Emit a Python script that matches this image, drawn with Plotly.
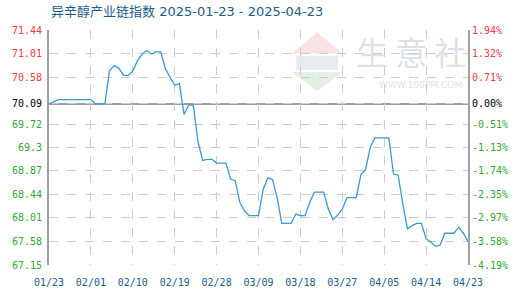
import pandas as pd
import plotly.graph_objects as go

title_text = "异辛醇产业链指数 2025-01-23 - 2025-04-23"
start_date = "2025-01-23"
end_date = "2025-04-23"
base_value = 70.09

values = [
    70.09, 70.13, 70.17, 70.17, 70.17, 70.17, 70.17, 70.17, 70.17, 70.17,
    70.09, 70.09, 70.09, 70.70, 70.79, 70.74, 70.61, 70.61, 70.69, 70.88,
    71.00, 71.07, 71.00, 71.04, 71.04, 70.73, 70.59, 70.43, 70.46, 69.90,
    70.07, 70.07, 69.40, 69.06, 69.08, 69.08, 69.01, 69.01, 69.01, 68.72,
    68.69, 68.29, 68.14, 68.05, 68.05, 68.05, 68.53, 68.74, 68.71, 68.38,
    67.91, 67.91, 67.91, 68.08, 68.05, 68.05, 68.29, 68.48, 68.48, 68.48,
    68.17, 67.98, 68.06, 68.17, 68.38, 68.38, 68.38, 68.80, 68.89, 69.30,
    69.47, 69.47, 69.47, 69.47, 68.81, 68.79, 68.26, 67.81, 67.87, 67.91,
    67.91, 67.63, 67.57, 67.49, 67.51, 67.73, 67.73, 67.73, 67.84, 67.73,
    67.58,
]
dates = pd.date_range(start_date, end_date, freq="D")

x_tick_dates = ["2025-01-23", "2025-02-01", "2025-02-10", "2025-02-19", "2025-02-28",
                "2025-03-09", "2025-03-18", "2025-03-27", "2025-04-05", "2025-04-14", "2025-04-23"]
x_tick_labels = ["01/23", "02/01", "02/10", "02/19", "02/28", "03/09", "03/18",
                 "03/27", "04/05", "04/14", "04/23"]

y_ticks = [71.44, 71.01, 70.58, 70.09, 69.72, 69.30, 68.87, 68.44, 68.01, 67.58, 67.15]
y_labels = ["71.44", "71.01", "70.58", "70.09", "69.72", "69.3", "68.87", "68.44", "68.01", "67.58", "67.15"]
pct_labels = ["1.94%", "1.32%", "0.71%", "0.00%", "-0.51%", "-1.13%", "-1.74%", "-2.35%",
              "-2.97%", "-3.58%", "-4.19%"]

RED = "#f03c3c"
GREEN = "#2eaa2e"
BLACK = "#000000"


def colored(vals, labels):
    out = []
    for v, t in zip(vals, labels):
        c = RED if v > base_value + 1e-9 else (BLACK if abs(v - base_value) < 1e-9 else GREEN)
        out.append(f'<span style="color:{c}">{t}</span>')
    return out


y_range = [min(y_ticks), max(y_ticks)]
mono = "DejaVu Sans Mono"
wm = "rgba(190,200,214,0.55)"

fig = go.Figure()
fig.add_trace(go.Scatter(x=dates, y=values, mode="lines",
                         line=dict(color="#3a98d8", width=1.3), hoverinfo="skip"))
fig.add_trace(go.Scatter(x=dates, y=values, mode="lines", yaxis="y2",
                         line=dict(color="rgba(0,0,0,0)", width=0), hoverinfo="skip", showlegend=False))

fig.update_layout(
    width=520, height=300,
    margin=dict(l=40, r=50, t=30, b=31),
    paper_bgcolor="white", plot_bgcolor="white",
    showlegend=False,
    xaxis=dict(
        type="date", range=[start_date, end_date],
        tickvals=x_tick_dates, ticktext=x_tick_labels,
        tickfont=dict(family=mono, size=10, color="#1b5c8c"),
        showgrid=True, gridcolor="#cccccc", griddash="dash", gridwidth=1,
        showline=False, zeroline=False, ticks="", ticklabelstandoff=10,
    ),
    yaxis=dict(
        range=y_range, tickvals=y_ticks, ticktext=colored(y_ticks, y_labels),
        tickfont=dict(family=mono, size=10),
        showgrid=True, gridcolor="#cccccc", griddash="dash", gridwidth=1,
        showline=True, linecolor="#a0a0a0", linewidth=2, zeroline=False, ticks="",
        ticklabelstandoff=3,
    ),
    yaxis2=dict(
        range=y_range, tickvals=y_ticks, ticktext=colored(y_ticks, pct_labels),
        tickfont=dict(family=mono, size=10), overlaying="y", side="right",
        showgrid=False, showline=True, linecolor="#a0a0a0", linewidth=2,
        zeroline=False, ticks="",
    ),
)

# baseline
fig.add_shape(type="line", xref="paper", x0=0, x1=1, yref="y", y0=base_value, y1=base_value,
              line=dict(color="#a0a0a0", width=2), layer="below")

# watermark logo (faint diamond)
fig.add_shape(type="path", xref="paper", yref="paper",
              path="M 0.64 0.99 L 0.70 0.90 L 0.58 0.90 Z",
              fillcolor="rgba(235,140,140,0.25)", line=dict(width=0), layer="below")
fig.add_shape(type="rect", xref="paper", yref="paper", x0=0.59, x1=0.69, y0=0.83, y1=0.89,
              fillcolor="rgba(190,200,214,0.35)", line=dict(width=0), layer="below")
fig.add_shape(type="path", xref="paper", yref="paper",
              path="M 0.58 0.82 L 0.70 0.82 L 0.64 0.74 Z",
              fillcolor="rgba(140,200,140,0.25)", line=dict(width=0), layer="below")

# title
fig.add_annotation(text=title_text, xref="paper", yref="paper", x=0, y=1, xanchor="left",
                   yanchor="bottom", yshift=9, showarrow=False,
                   font=dict(family="DejaVu Sans, Noto Sans CJK SC", size=13, color="#1b5c8c"))

# watermark text
fig.add_annotation(text="生 意 社", xref="paper", yref="paper", x=1.0, y=0.91,
                   xanchor="right", yanchor="middle", showarrow=False,
                   font=dict(family="Noto Sans CJK SC", size=32, color=wm))
fig.add_annotation(text="WWW.100PPI.COM", xref="paper", yref="paper", x=0.99, y=0.765,
                   xanchor="right", yanchor="middle", showarrow=False,
                   font=dict(family="DejaVu Sans", size=9, color=wm))

fig.write_html("out.html")
